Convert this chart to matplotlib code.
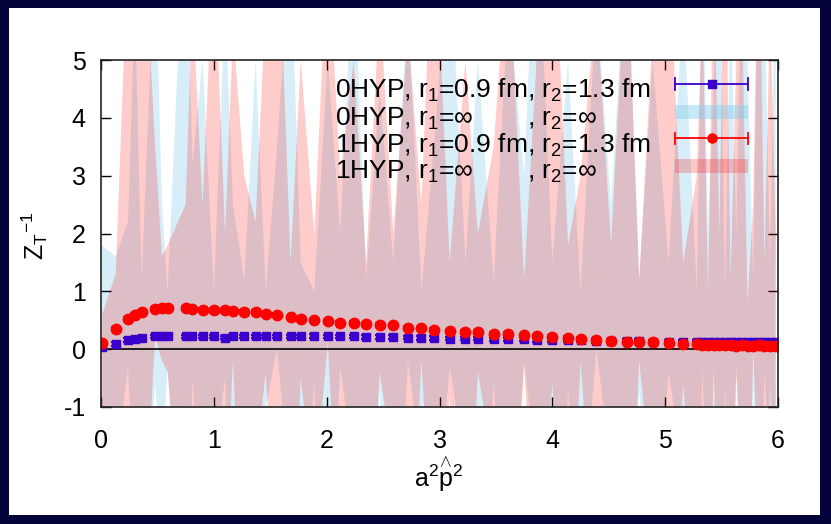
"""
Z_T^{-1} vs a^2 p^2 for 0HYP / 1HYP, finite-r (points) vs r = inf (bands).
"""

import matplotlib
matplotlib.use("Agg")
import matplotlib.pyplot as plt
from matplotlib import font_manager
from matplotlib.patches import Rectangle

names = {f.name for f in font_manager.fontManager.ttflist}
FONT = "Liberation Sans Narrow" if "Liberation Sans Narrow" in names else "Liberation Sans"

plt.rcParams.update({
    "font.family": [FONT, "DejaVu Sans"],
    "mathtext.fontset": "custom",
    "mathtext.rm": FONT,
    "mathtext.it": FONT,
    "mathtext.bf": FONT,
    "axes.unicode_minus": False,
})

# momentum points a^2 p^2 (shared by all series)
x = [0.01, 0.13, 0.24, 0.30, 0.36, 0.48, 0.54, 0.59, 0.75, 0.81,
     0.90, 1.00, 1.10, 1.17, 1.27, 1.37, 1.46, 1.56, 1.68, 1.77,
     1.89, 2.01, 2.12, 2.24, 2.35, 2.47, 2.59, 2.72, 2.84, 2.95,
     3.09, 3.23, 3.34, 3.48, 3.61, 3.75, 3.86, 4.00, 4.14, 4.25,
     4.39, 4.52, 4.66, 4.77, 4.89, 5.03, 5.16, 5.28, 5.33, 5.38,
     5.43, 5.48, 5.53, 5.58, 5.63, 5.68, 5.73, 5.78, 5.83, 5.88,
     5.93, 5.98]

# 0HYP, r1=0.9 fm, r2=1.3 fm
hyp0_y = [0.04, 0.09, 0.16, 0.18, 0.19, 0.22, 0.22, 0.22, 0.22, 0.22,
          0.22, 0.22, 0.20, 0.22, 0.22, 0.22, 0.22, 0.22, 0.22, 0.22,
          0.23, 0.22, 0.22, 0.22, 0.21, 0.21, 0.21, 0.20, 0.19, 0.19,
          0.18, 0.18, 0.18, 0.17, 0.17, 0.17, 0.16, 0.16, 0.16, 0.15,
          0.14, 0.14, 0.14, 0.14, 0.13, 0.13, 0.13, 0.13, 0.13, 0.13,
          0.12, 0.13, 0.12, 0.12, 0.13, 0.12, 0.12, 0.12, 0.13, 0.12,
          0.12, 0.12]
hyp0_err = [0.03] * len(x)

# 1HYP, r1=0.9 fm, r2=1.3 fm
hyp1_y = [0.11, 0.35, 0.53, 0.59, 0.65, 0.70, 0.71, 0.71, 0.71, 0.69,
          0.68, 0.68, 0.67, 0.66, 0.65, 0.64, 0.61, 0.59, 0.55, 0.53,
          0.50, 0.48, 0.46, 0.45, 0.43, 0.42, 0.41, 0.37, 0.36, 0.33,
          0.31, 0.30, 0.30, 0.27, 0.26, 0.24, 0.23, 0.21, 0.19, 0.18,
          0.16, 0.14, 0.13, 0.12, 0.12, 0.11, 0.09, 0.09, 0.08, 0.08,
          0.07, 0.08, 0.07, 0.07, 0.06, 0.07, 0.06, 0.06, 0.07, 0.06,
          0.05, 0.06]
hyp1_err = [0.03] * len(x)

# r1 = r2 = inf bands (very noisy, often beyond the plotted range)
band0_hi = [1.8, 1.6, 2.2, 6, 1.2, 7, 2.5, 1.0, 8, 3.2,
            5, 1.0, 6, 2.5, 1.2, 5, 1.0, 3.5, 7, 1.5,
            1.0, 5, 2.0, 7, 1.2, 4.5, 1.5, 6, 1.0, 3.5,
            7, 1.5, 5, 1.2, 6, 3.0, 8, 1.5, 5, 1.0,
            6, 2.5, 7, 1.2, 5, 1.5, 6, 1.0, 7, 2.0,
            4.5, 8, 1.0, 6, 2.0, 7, 5, 1.2, 8, 6,
            1.5, 7]
band0_lo = [-4, -2, -0.3, -3, -4, -0.6, -2, -0.3, -5, -0.5,
            -3, -2, -0.5, -5, -1.5, -4, -1.0, 0.0, -2.5, -4,
            -0.6, -5, -0.3, -2, -4, -0.7, -5, -0.2, -2, -3.5,
            -0.3, -2, -5, -0.6, -4, -0.2, -2, -5, -0.7, -3.5,
            0.0, -2, -5, -0.7, -4, -0.4, -2, -5, -0.3, -3.5,
            -2, -5, -0.6, -4, -0.3, -2, -5, -0.7, -4, -0.4,
            -2, -5]
band1_hi = [0.6, 1.3, 7, 5, 8, 3.5, 1.6, 1.8, 2.5, 6,
            2.5, 7, 2.0, 5.5, 3.0, 2.2, 6, 8, 1.5, 5,
            2.0, 7, 3.0, 5, 1.5, 6, 2.0, 5.5, 2.5, 8,
            1.5, 5, 2.0, 3.5, 7, 1.2, 5, 8, 1.8, 3.0,
            6, 1.8, 7, 1.2, 5.5, 7, 1.5, 3.0, 6, 1.0,
            7, 2.0, 8, 1.2, 5, 6, 0.8, 2.5, 8, 1.5,
            6, 2.0]
band1_lo = [-4, -3, -5, -1.5, -4, 0.2, -0.2, -0.4, -4, -1.5,
            -5, -0.8, -3, -0.2, -5, -2, -0.4, -4, -5, -0.5,
            -2.5, 0.1, -4, -1.5, -5, -0.4, -2, -5, -0.2, -4,
            -0.8, -5, -0.4, -2, -5, -0.3, -4, -0.6, -5, -0.2,
            -4, -1.5, -5, -0.2, -2.5, -5, -0.6, -4, -2, -5,
            -0.3, -4, -1.5, -5, -0.4, -3, -5, 0.0, -2.5, -5,
            -0.6, -4]

BLUE = "#3a00cc"
RED = "#ff0000"
SKY = "#87ceeb"

fig = plt.figure(figsize=(8.31, 5.24), dpi=100)
fig.patch.set_facecolor("#03033a")
fig.patches.append(Rectangle((9 / 831, 1 - 515 / 524), 811 / 831, 507 / 524,
                             transform=fig.transFigure, facecolor="white",
                             edgecolor="none", zorder=-5))
ax = fig.add_axes([101 / 831, 1 - 407 / 524, 677 / 831, 347 / 524])
ax.set_facecolor("white")

ax.fill_between(x, band0_lo, band0_hi, color=SKY, alpha=0.33, lw=0, zorder=1)
ax.fill_between(x, band1_lo, band1_hi, color=RED, alpha=0.2, lw=0, zorder=2)
ax.axhline(0, color="black", lw=1.2, zorder=3)

ax.errorbar(x, hyp0_y, yerr=hyp0_err, fmt="s", color=BLUE, ms=6,
            elinewidth=1.5, capsize=3.5, capthick=1.5, zorder=4)
ax.errorbar(x, hyp1_y, yerr=hyp1_err, fmt="o", color=RED, ms=7.5,
            elinewidth=1.5, capsize=3.5, capthick=1.5, zorder=5)

ax.set_xlim(0, 6)
ax.set_ylim(-1, 5)
ax.set_xticks(range(0, 7))
ax.set_yticks(range(-1, 6))
ax.tick_params(direction="in", length=7, width=1, top=True, right=True,
               labelsize=18, colors="black")
ax.tick_params(axis="x", pad=16)
ax.tick_params(axis="y", pad=11)
for s in ax.spines.values():
    s.set_linewidth(1.2)
    s.set_color("#222222")
    s.set_zorder(6)

# key, drawn gnuplot-style without a box
fs = 19
tx = (335 - 101) / 677
tx2 = (527 - 101) / 677
rows = [0.8905, 0.8107, 0.734, 0.657]
ax.text(tx, rows[0], r"0HYP, r$_\mathregular{1}$=0.9 fm, r$_\mathregular{2}$=1.3 fm",
        transform=ax.transAxes, fontsize=fs, va="baseline", zorder=7)
ax.text(tx, rows[1], r"0HYP, r$_\mathregular{1}$=∞", transform=ax.transAxes,
        fontsize=fs, va="baseline", zorder=7)
ax.text(tx2, rows[1], r", r$_\mathregular{2}$=∞", transform=ax.transAxes,
        fontsize=fs, va="baseline", zorder=7)
ax.text(tx, rows[2], r"1HYP, r$_\mathregular{1}$=0.9 fm, r$_\mathregular{2}$=1.3 fm",
        transform=ax.transAxes, fontsize=fs, va="baseline", zorder=7)
ax.text(tx, rows[3], r"1HYP, r$_\mathregular{1}$=∞", transform=ax.transAxes,
        fontsize=fs, va="baseline", zorder=7)
ax.text(tx2, rows[3], r", r$_\mathregular{2}$=∞", transform=ax.transAxes,
        fontsize=fs, va="baseline", zorder=7)

kx0, kx1 = 0.848, 0.9557
kxm = (kx0 + kx1) / 2
for ky, col, mk, ms in [(0.9308, BLUE, "s", 5.5), (0.7744, RED, "o", 6.5)]:
    ax.plot([kx0, kx1], [ky, ky], color=col, lw=1.3, transform=ax.transAxes, zorder=7)
    ax.plot([kx0, kx0], [ky - 0.016, ky + 0.016], color=col, lw=1.3,
            transform=ax.transAxes, zorder=7)
    ax.plot([kx1, kx1], [ky - 0.016, ky + 0.016], color=col, lw=1.3,
            transform=ax.transAxes, zorder=7)
    ax.plot([kxm], [ky], marker=mk, color=col, ms=ms, transform=ax.transAxes, zorder=7)
ax.add_patch(Rectangle((kx0, 0.830), kx1 - kx0, 0.040, transform=ax.transAxes,
                       facecolor=SKY, alpha=0.45, lw=0, zorder=7))
ax.add_patch(Rectangle((kx0, 0.6744), kx1 - kx0, 0.040, transform=ax.transAxes,
                       facecolor=RED, alpha=0.22, lw=0, zorder=7))

fig.text(35 / 831, 1 - 236 / 524, r"Z$_\mathregular{T}{}^\mathregular{-1}$",
         rotation=90, ha="center", va="center", fontsize=18)
fig.text(439 / 831, 1 - 474 / 524, r"a$^\mathregular{2}\overset{\wedge}{\mathregular{p}}^\mathregular{2}$",
         ha="center", va="center", fontsize=18)

fig.savefig("out.png", dpi=100, facecolor=fig.get_facecolor())
